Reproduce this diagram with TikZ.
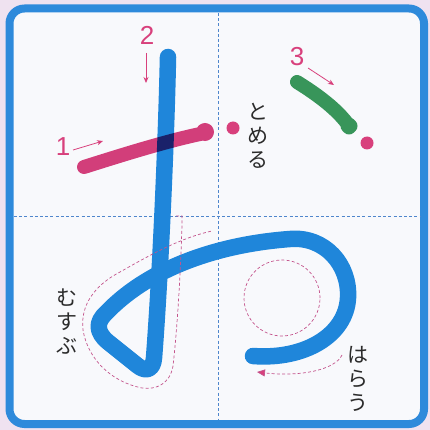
\documentclass[tikz,border=0pt]{standalone}
\usepackage{fontspec}
\setsansfont{Liberation Sans}
\newfontfamily\jpfont{Noto Sans CJK JP}
\usetikzlibrary{arrows.meta, positioning}
\definecolor{kbg}{HTML}{EFE2F0}
\definecolor{kpaper}{HTML}{F8F9FC}
\definecolor{kframe}{HTML}{2E8ADB}
\definecolor{kguide}{HTML}{4F86CC}
\definecolor{kblue}{HTML}{1F86DA}
\definecolor{kpink}{HTML}{D8407C}
\definecolor{kgreen}{HTML}{38955A}
\definecolor{kdash}{HTML}{C4548C}
\definecolor{kink}{HTML}{2B2B2B}
\tikzset{
  frame/.style={draw=kframe, line width=8pt, fill=kpaper, rounded corners=15pt},
  guide/.style={draw=kguide, line width=0.8pt, dash pattern=on 3pt off 2.2pt},
  brush/.style={line width=15pt, line cap=round, line join=round},
  bluebrush/.style={brush, draw=kblue, line width=16.5pt},
  pinkbrush/.style={brush, draw=kpink, line width=14pt},
  greenbrush/.style={brush, draw=kgreen, line width=14pt},
  stopdot/.style={circle, fill=kpink, inner sep=0pt, minimum size=13pt},
  hint/.style={draw=kdash, line width=0.7pt, dash pattern=on 3pt off 2.2pt},
  numlabel/.style={text=kpink, font=\sffamily\fontsize{26}{26}\selectfont, inner sep=0pt},
  jplabel/.style={text=kink, font=\jpfont\fontsize{21}{24}\selectfont, align=center, inner sep=0pt},
  dirarrow/.style={-{Stealth[length=6pt, width=5pt]}, draw=kpink, line width=0.8pt}
}
\begin{document}
\begin{tikzpicture}[x=1pt, y=-1pt]
  \useasboundingbox (0,0) rectangle (430,430);
  \fill[kbg] (0,0) rectangle (430,430);
  \draw[frame] (9.5,8.5) rectangle (424,424);

  % guide lines
  \coordinate (gtop) at (218,13);
  \coordinate (gbot) at (218,420);
  \coordinate (gleft) at (14,216);
  \coordinate (gright) at (420,216);
  \draw[guide] (gtop) -- (gbot);
  \draw[guide] (gleft) -- (gright);

  % strokes
  \draw[bluebrush] (168,57) .. controls (166,150) and (160,280) .. (154,358)
    .. controls (153,370) and (146,372) .. (138,366)
    -- (108,342)
    .. controls (96,332) and (96,322) .. (106,313)
    .. controls (145,272) and (210,245) .. (290,239)
    .. controls (325,236) and (350,265) .. (348,298)
    .. controls (346,335) and (305,360) .. (253,356);
  \draw[pinkbrush, blend mode=multiply] (84,167) .. controls (125,154) and (170,140) .. (205,133)
    (205,132) circle (2pt);
  \draw[greenbrush] (297,82) .. controls (318,95) and (338,110) .. (349,126)
    (349,126) circle (1.5pt);

  % stop dots
  \node[stopdot] (stop1) at (233,128) {};
  \node[stopdot] (stop3) at (367,143) {};

  % hints
  \coordinate (knot) at (176,216);
  \draw[hint] (knot) -- (182,216) -- (182,225)
    .. controls (180,290) and (176,340) .. (173,366)
    .. controls (170,384) and (156,390) .. (142,388)
    .. controls (112,382) and (88,360) .. (83,330)
    .. controls (80,305) and (95,285) .. (120,272)
    .. controls (150,255) and (180,238) .. (212,231);
  \node[hint, circle, minimum size=76pt, inner sep=0pt] (hole) at (282,298) {};
  \coordinate (sweep) at (342,355);
  \coordinate (sweepend) at (257,372);
  \draw[hint, -{Triangle[length=8pt, width=7pt, fill=kpink]}] (sweep)
    .. controls (335,370) and (300,377) .. (sweepend);

  % order numbers
  \node[numlabel] (n1) at (63,147) {1};
  \node[numlabel] (n2) at (147,35) {2};
  \node[numlabel] (n3) at (297,57) {3};
  \coordinate (a1) at (73,150);
  \coordinate (b1) at (103,141);
  \coordinate (a2) at (146,53);
  \coordinate (b2) at (146,83);
  \coordinate (a3) at (308,68);
  \coordinate (b3) at (334,85);
  \draw[dirarrow] (a1) -- (b1);
  \draw[dirarrow] (a2) -- (b2);
  \draw[dirarrow] (a3) -- (b3);

  % labels
  \node[jplabel] (tomeru) at (258,136) {と\\め\\る};
  \node[jplabel] (musubu) at (67,322) {む\\す\\ぶ};
  \node[jplabel] (harau) at (358,379) {は\\ら\\う};
\end{tikzpicture}
\end{document}
